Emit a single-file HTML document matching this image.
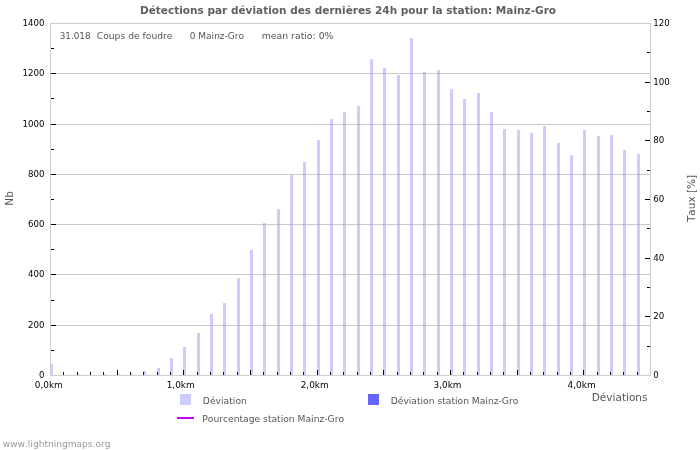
<!DOCTYPE html><html><head><meta charset="utf-8"><style>html,body{margin:0;padding:0;background:#fff;}body{position:relative;width:700px;height:450px;overflow:hidden}svg{display:block;position:absolute;left:0;top:0}text{font-family:"DejaVu Sans","Liberation Sans",sans-serif;font-kerning:none;}</style></head><body>
<svg width="700" height="450" viewBox="0 0 700 450" shape-rendering="crispEdges">
<rect x="0" y="0" width="700" height="450" fill="#fff"/>
<rect x="51" y="325" width="599" height="1" fill="#cacaca"/>
<rect x="51" y="274" width="599" height="1" fill="#cacaca"/>
<rect x="51" y="224" width="599" height="1" fill="#cacaca"/>
<rect x="51" y="174" width="599" height="1" fill="#cacaca"/>
<rect x="51" y="124" width="599" height="1" fill="#cacaca"/>
<rect x="51" y="73" width="599" height="1" fill="#cacaca"/>
<rect x="50" y="364" width="3" height="11" fill="#ccccff"/>
<rect x="77" y="374" width="3" height="1" fill="#ccccff"/>
<rect x="103" y="374" width="3" height="1" fill="#ccccff"/>
<rect x="117" y="374" width="3" height="1" fill="#ccccff"/>
<rect x="130" y="374" width="3" height="1" fill="#ccccff"/>
<rect x="143" y="371" width="3" height="4" fill="#ccccff"/>
<rect x="157" y="368" width="3" height="7" fill="#ccccff"/>
<rect x="170" y="358" width="3" height="17" fill="#ccccff"/>
<rect x="183" y="347" width="3" height="28" fill="#ccccff"/>
<rect x="197" y="333" width="3" height="42" fill="#ccccff"/>
<rect x="210" y="314" width="3" height="61" fill="#ccccff"/>
<rect x="210" y="325" width="3" height="1" fill="#b2b2de"/>
<rect x="223" y="303" width="3" height="72" fill="#ccccff"/>
<rect x="223" y="325" width="3" height="1" fill="#b2b2de"/>
<rect x="237" y="278" width="3" height="97" fill="#ccccff"/>
<rect x="237" y="325" width="3" height="1" fill="#b2b2de"/>
<rect x="250" y="250" width="3" height="125" fill="#ccccff"/>
<rect x="250" y="325" width="3" height="1" fill="#b2b2de"/>
<rect x="250" y="274" width="3" height="1" fill="#b2b2de"/>
<rect x="263" y="223" width="3" height="152" fill="#ccccff"/>
<rect x="263" y="325" width="3" height="1" fill="#b2b2de"/>
<rect x="263" y="274" width="3" height="1" fill="#b2b2de"/>
<rect x="263" y="224" width="3" height="1" fill="#b2b2de"/>
<rect x="277" y="209" width="3" height="166" fill="#ccccff"/>
<rect x="277" y="325" width="3" height="1" fill="#b2b2de"/>
<rect x="277" y="274" width="3" height="1" fill="#b2b2de"/>
<rect x="277" y="224" width="3" height="1" fill="#b2b2de"/>
<rect x="290" y="175" width="3" height="200" fill="#ccccff"/>
<rect x="290" y="325" width="3" height="1" fill="#b2b2de"/>
<rect x="290" y="274" width="3" height="1" fill="#b2b2de"/>
<rect x="290" y="224" width="3" height="1" fill="#b2b2de"/>
<rect x="303" y="162" width="3" height="213" fill="#ccccff"/>
<rect x="303" y="325" width="3" height="1" fill="#b2b2de"/>
<rect x="303" y="274" width="3" height="1" fill="#b2b2de"/>
<rect x="303" y="224" width="3" height="1" fill="#b2b2de"/>
<rect x="303" y="174" width="3" height="1" fill="#b2b2de"/>
<rect x="317" y="140" width="3" height="235" fill="#ccccff"/>
<rect x="317" y="325" width="3" height="1" fill="#b2b2de"/>
<rect x="317" y="274" width="3" height="1" fill="#b2b2de"/>
<rect x="317" y="224" width="3" height="1" fill="#b2b2de"/>
<rect x="317" y="174" width="3" height="1" fill="#b2b2de"/>
<rect x="330" y="119" width="3" height="256" fill="#ccccff"/>
<rect x="330" y="325" width="3" height="1" fill="#b2b2de"/>
<rect x="330" y="274" width="3" height="1" fill="#b2b2de"/>
<rect x="330" y="224" width="3" height="1" fill="#b2b2de"/>
<rect x="330" y="174" width="3" height="1" fill="#b2b2de"/>
<rect x="330" y="124" width="3" height="1" fill="#b2b2de"/>
<rect x="343" y="112" width="3" height="263" fill="#ccccff"/>
<rect x="343" y="325" width="3" height="1" fill="#b2b2de"/>
<rect x="343" y="274" width="3" height="1" fill="#b2b2de"/>
<rect x="343" y="224" width="3" height="1" fill="#b2b2de"/>
<rect x="343" y="174" width="3" height="1" fill="#b2b2de"/>
<rect x="343" y="124" width="3" height="1" fill="#b2b2de"/>
<rect x="357" y="106" width="3" height="269" fill="#ccccff"/>
<rect x="357" y="325" width="3" height="1" fill="#b2b2de"/>
<rect x="357" y="274" width="3" height="1" fill="#b2b2de"/>
<rect x="357" y="224" width="3" height="1" fill="#b2b2de"/>
<rect x="357" y="174" width="3" height="1" fill="#b2b2de"/>
<rect x="357" y="124" width="3" height="1" fill="#b2b2de"/>
<rect x="370" y="59" width="3" height="316" fill="#ccccff"/>
<rect x="370" y="325" width="3" height="1" fill="#b2b2de"/>
<rect x="370" y="274" width="3" height="1" fill="#b2b2de"/>
<rect x="370" y="224" width="3" height="1" fill="#b2b2de"/>
<rect x="370" y="174" width="3" height="1" fill="#b2b2de"/>
<rect x="370" y="124" width="3" height="1" fill="#b2b2de"/>
<rect x="370" y="73" width="3" height="1" fill="#b2b2de"/>
<rect x="383" y="68" width="3" height="307" fill="#ccccff"/>
<rect x="383" y="325" width="3" height="1" fill="#b2b2de"/>
<rect x="383" y="274" width="3" height="1" fill="#b2b2de"/>
<rect x="383" y="224" width="3" height="1" fill="#b2b2de"/>
<rect x="383" y="174" width="3" height="1" fill="#b2b2de"/>
<rect x="383" y="124" width="3" height="1" fill="#b2b2de"/>
<rect x="383" y="73" width="3" height="1" fill="#b2b2de"/>
<rect x="397" y="75" width="3" height="300" fill="#ccccff"/>
<rect x="397" y="325" width="3" height="1" fill="#b2b2de"/>
<rect x="397" y="274" width="3" height="1" fill="#b2b2de"/>
<rect x="397" y="224" width="3" height="1" fill="#b2b2de"/>
<rect x="397" y="174" width="3" height="1" fill="#b2b2de"/>
<rect x="397" y="124" width="3" height="1" fill="#b2b2de"/>
<rect x="410" y="38" width="3" height="337" fill="#ccccff"/>
<rect x="410" y="325" width="3" height="1" fill="#b2b2de"/>
<rect x="410" y="274" width="3" height="1" fill="#b2b2de"/>
<rect x="410" y="224" width="3" height="1" fill="#b2b2de"/>
<rect x="410" y="174" width="3" height="1" fill="#b2b2de"/>
<rect x="410" y="124" width="3" height="1" fill="#b2b2de"/>
<rect x="410" y="73" width="3" height="1" fill="#b2b2de"/>
<rect x="423" y="72" width="3" height="303" fill="#ccccff"/>
<rect x="423" y="325" width="3" height="1" fill="#b2b2de"/>
<rect x="423" y="274" width="3" height="1" fill="#b2b2de"/>
<rect x="423" y="224" width="3" height="1" fill="#b2b2de"/>
<rect x="423" y="174" width="3" height="1" fill="#b2b2de"/>
<rect x="423" y="124" width="3" height="1" fill="#b2b2de"/>
<rect x="423" y="73" width="3" height="1" fill="#b2b2de"/>
<rect x="437" y="70" width="3" height="305" fill="#ccccff"/>
<rect x="437" y="325" width="3" height="1" fill="#b2b2de"/>
<rect x="437" y="274" width="3" height="1" fill="#b2b2de"/>
<rect x="437" y="224" width="3" height="1" fill="#b2b2de"/>
<rect x="437" y="174" width="3" height="1" fill="#b2b2de"/>
<rect x="437" y="124" width="3" height="1" fill="#b2b2de"/>
<rect x="437" y="73" width="3" height="1" fill="#b2b2de"/>
<rect x="450" y="89" width="3" height="286" fill="#ccccff"/>
<rect x="450" y="325" width="3" height="1" fill="#b2b2de"/>
<rect x="450" y="274" width="3" height="1" fill="#b2b2de"/>
<rect x="450" y="224" width="3" height="1" fill="#b2b2de"/>
<rect x="450" y="174" width="3" height="1" fill="#b2b2de"/>
<rect x="450" y="124" width="3" height="1" fill="#b2b2de"/>
<rect x="463" y="99" width="3" height="276" fill="#ccccff"/>
<rect x="463" y="325" width="3" height="1" fill="#b2b2de"/>
<rect x="463" y="274" width="3" height="1" fill="#b2b2de"/>
<rect x="463" y="224" width="3" height="1" fill="#b2b2de"/>
<rect x="463" y="174" width="3" height="1" fill="#b2b2de"/>
<rect x="463" y="124" width="3" height="1" fill="#b2b2de"/>
<rect x="477" y="93" width="3" height="282" fill="#ccccff"/>
<rect x="477" y="325" width="3" height="1" fill="#b2b2de"/>
<rect x="477" y="274" width="3" height="1" fill="#b2b2de"/>
<rect x="477" y="224" width="3" height="1" fill="#b2b2de"/>
<rect x="477" y="174" width="3" height="1" fill="#b2b2de"/>
<rect x="477" y="124" width="3" height="1" fill="#b2b2de"/>
<rect x="490" y="112" width="3" height="263" fill="#ccccff"/>
<rect x="490" y="325" width="3" height="1" fill="#b2b2de"/>
<rect x="490" y="274" width="3" height="1" fill="#b2b2de"/>
<rect x="490" y="224" width="3" height="1" fill="#b2b2de"/>
<rect x="490" y="174" width="3" height="1" fill="#b2b2de"/>
<rect x="490" y="124" width="3" height="1" fill="#b2b2de"/>
<rect x="503" y="129" width="3" height="246" fill="#ccccff"/>
<rect x="503" y="325" width="3" height="1" fill="#b2b2de"/>
<rect x="503" y="274" width="3" height="1" fill="#b2b2de"/>
<rect x="503" y="224" width="3" height="1" fill="#b2b2de"/>
<rect x="503" y="174" width="3" height="1" fill="#b2b2de"/>
<rect x="517" y="130" width="3" height="245" fill="#ccccff"/>
<rect x="517" y="325" width="3" height="1" fill="#b2b2de"/>
<rect x="517" y="274" width="3" height="1" fill="#b2b2de"/>
<rect x="517" y="224" width="3" height="1" fill="#b2b2de"/>
<rect x="517" y="174" width="3" height="1" fill="#b2b2de"/>
<rect x="530" y="133" width="3" height="242" fill="#ccccff"/>
<rect x="530" y="325" width="3" height="1" fill="#b2b2de"/>
<rect x="530" y="274" width="3" height="1" fill="#b2b2de"/>
<rect x="530" y="224" width="3" height="1" fill="#b2b2de"/>
<rect x="530" y="174" width="3" height="1" fill="#b2b2de"/>
<rect x="543" y="126" width="3" height="249" fill="#ccccff"/>
<rect x="543" y="325" width="3" height="1" fill="#b2b2de"/>
<rect x="543" y="274" width="3" height="1" fill="#b2b2de"/>
<rect x="543" y="224" width="3" height="1" fill="#b2b2de"/>
<rect x="543" y="174" width="3" height="1" fill="#b2b2de"/>
<rect x="557" y="143" width="3" height="232" fill="#ccccff"/>
<rect x="557" y="325" width="3" height="1" fill="#b2b2de"/>
<rect x="557" y="274" width="3" height="1" fill="#b2b2de"/>
<rect x="557" y="224" width="3" height="1" fill="#b2b2de"/>
<rect x="557" y="174" width="3" height="1" fill="#b2b2de"/>
<rect x="570" y="155" width="3" height="220" fill="#ccccff"/>
<rect x="570" y="325" width="3" height="1" fill="#b2b2de"/>
<rect x="570" y="274" width="3" height="1" fill="#b2b2de"/>
<rect x="570" y="224" width="3" height="1" fill="#b2b2de"/>
<rect x="570" y="174" width="3" height="1" fill="#b2b2de"/>
<rect x="583" y="130" width="3" height="245" fill="#ccccff"/>
<rect x="583" y="325" width="3" height="1" fill="#b2b2de"/>
<rect x="583" y="274" width="3" height="1" fill="#b2b2de"/>
<rect x="583" y="224" width="3" height="1" fill="#b2b2de"/>
<rect x="583" y="174" width="3" height="1" fill="#b2b2de"/>
<rect x="597" y="136" width="3" height="239" fill="#ccccff"/>
<rect x="597" y="325" width="3" height="1" fill="#b2b2de"/>
<rect x="597" y="274" width="3" height="1" fill="#b2b2de"/>
<rect x="597" y="224" width="3" height="1" fill="#b2b2de"/>
<rect x="597" y="174" width="3" height="1" fill="#b2b2de"/>
<rect x="610" y="135" width="3" height="240" fill="#ccccff"/>
<rect x="610" y="325" width="3" height="1" fill="#b2b2de"/>
<rect x="610" y="274" width="3" height="1" fill="#b2b2de"/>
<rect x="610" y="224" width="3" height="1" fill="#b2b2de"/>
<rect x="610" y="174" width="3" height="1" fill="#b2b2de"/>
<rect x="623" y="150" width="3" height="225" fill="#ccccff"/>
<rect x="623" y="325" width="3" height="1" fill="#b2b2de"/>
<rect x="623" y="274" width="3" height="1" fill="#b2b2de"/>
<rect x="623" y="224" width="3" height="1" fill="#b2b2de"/>
<rect x="623" y="174" width="3" height="1" fill="#b2b2de"/>
<rect x="637" y="154" width="3" height="221" fill="#ccccff"/>
<rect x="637" y="325" width="3" height="1" fill="#b2b2de"/>
<rect x="637" y="274" width="3" height="1" fill="#b2b2de"/>
<rect x="637" y="224" width="3" height="1" fill="#b2b2de"/>
<rect x="637" y="174" width="3" height="1" fill="#b2b2de"/>
<rect x="50" y="23" width="601" height="1" fill="#cfcfcf"/>
<rect x="650" y="23" width="1" height="353" fill="#cfcfcf"/>
<rect x="50" y="23" width="1" height="353" fill="#cfcfcf"/>
<rect x="50" y="375" width="601" height="1" fill="#cfcfcf"/>
<rect x="63" y="372" width="1" height="3" fill="#000"/>
<rect x="77" y="372" width="1" height="3" fill="#000"/>
<rect x="90" y="372" width="1" height="3" fill="#000"/>
<rect x="103" y="372" width="1" height="3" fill="#000"/>
<rect x="117" y="370" width="1" height="5" fill="#000"/>
<rect x="130" y="372" width="1" height="3" fill="#000"/>
<rect x="143" y="372" width="1" height="3" fill="#000"/>
<rect x="157" y="372" width="1" height="3" fill="#000"/>
<rect x="170" y="372" width="1" height="3" fill="#000"/>
<rect x="183" y="370" width="1" height="5" fill="#000"/>
<rect x="197" y="372" width="1" height="3" fill="#000"/>
<rect x="210" y="372" width="1" height="3" fill="#000"/>
<rect x="223" y="372" width="1" height="3" fill="#000"/>
<rect x="237" y="372" width="1" height="3" fill="#000"/>
<rect x="250" y="370" width="1" height="5" fill="#000"/>
<rect x="263" y="372" width="1" height="3" fill="#000"/>
<rect x="277" y="372" width="1" height="3" fill="#000"/>
<rect x="290" y="372" width="1" height="3" fill="#000"/>
<rect x="303" y="372" width="1" height="3" fill="#000"/>
<rect x="317" y="370" width="1" height="5" fill="#000"/>
<rect x="330" y="372" width="1" height="3" fill="#000"/>
<rect x="343" y="372" width="1" height="3" fill="#000"/>
<rect x="357" y="372" width="1" height="3" fill="#000"/>
<rect x="370" y="372" width="1" height="3" fill="#000"/>
<rect x="383" y="370" width="1" height="5" fill="#000"/>
<rect x="397" y="372" width="1" height="3" fill="#000"/>
<rect x="410" y="372" width="1" height="3" fill="#000"/>
<rect x="423" y="372" width="1" height="3" fill="#000"/>
<rect x="437" y="372" width="1" height="3" fill="#000"/>
<rect x="450" y="370" width="1" height="5" fill="#000"/>
<rect x="463" y="372" width="1" height="3" fill="#000"/>
<rect x="477" y="372" width="1" height="3" fill="#000"/>
<rect x="490" y="372" width="1" height="3" fill="#000"/>
<rect x="503" y="372" width="1" height="3" fill="#000"/>
<rect x="517" y="370" width="1" height="5" fill="#000"/>
<rect x="530" y="372" width="1" height="3" fill="#000"/>
<rect x="543" y="372" width="1" height="3" fill="#000"/>
<rect x="557" y="372" width="1" height="3" fill="#000"/>
<rect x="570" y="372" width="1" height="3" fill="#000"/>
<rect x="583" y="370" width="1" height="5" fill="#000"/>
<rect x="597" y="372" width="1" height="3" fill="#000"/>
<rect x="610" y="372" width="1" height="3" fill="#000"/>
<rect x="623" y="372" width="1" height="3" fill="#000"/>
<rect x="637" y="372" width="1" height="3" fill="#000"/>
<rect x="51" y="350" width="3" height="1" fill="#000"/>
<rect x="51" y="325" width="5" height="1" fill="#000"/>
<rect x="51" y="300" width="3" height="1" fill="#000"/>
<rect x="51" y="274" width="5" height="1" fill="#000"/>
<rect x="51" y="249" width="3" height="1" fill="#000"/>
<rect x="51" y="224" width="5" height="1" fill="#000"/>
<rect x="51" y="199" width="3" height="1" fill="#000"/>
<rect x="51" y="174" width="5" height="1" fill="#000"/>
<rect x="51" y="149" width="3" height="1" fill="#000"/>
<rect x="51" y="124" width="5" height="1" fill="#000"/>
<rect x="51" y="98" width="3" height="1" fill="#000"/>
<rect x="51" y="73" width="5" height="1" fill="#000"/>
<rect x="51" y="48" width="3" height="1" fill="#000"/>
<rect x="647" y="346" width="3" height="1" fill="#000"/>
<rect x="645" y="316" width="5" height="1" fill="#000"/>
<rect x="647" y="287" width="3" height="1" fill="#000"/>
<rect x="645" y="258" width="5" height="1" fill="#000"/>
<rect x="647" y="228" width="3" height="1" fill="#000"/>
<rect x="645" y="199" width="5" height="1" fill="#000"/>
<rect x="647" y="170" width="3" height="1" fill="#000"/>
<rect x="645" y="140" width="5" height="1" fill="#000"/>
<rect x="647" y="111" width="3" height="1" fill="#000"/>
<rect x="645" y="82" width="5" height="1" fill="#000"/>
<rect x="647" y="52" width="3" height="1" fill="#000"/>
<rect x="180" y="394" width="11" height="11" fill="#ccccff"/>
<rect x="368" y="394" width="11" height="11" fill="#6666ff"/>
<rect x="177" y="417" width="17" height="2" fill="#cc00ff"/>
</svg>
<svg width="700" height="450" viewBox="0 0 700 450">
<text x="139.93" y="13.9" font-size="11" font-weight="bold" fill="#606060" textLength="416.12" lengthAdjust="spacingAndGlyphs">Détections par déviation des dernières 24h pour la station: Mainz-Gro</text>
<text x="59.63" y="38.8" font-size="9.3" fill="#555" textLength="30.98" lengthAdjust="spacingAndGlyphs">31.018</text>
<text x="96.78" y="38.8" font-size="9.3" fill="#555" textLength="75.7" lengthAdjust="spacingAndGlyphs">Coups de foudre</text>
<text x="189.7" y="38.8" font-size="9.3" fill="#555" textLength="54.39" lengthAdjust="spacingAndGlyphs">0 Mainz-Gro</text>
<text x="261.75" y="38.8" font-size="9.3" fill="#555" textLength="71.66" lengthAdjust="spacingAndGlyphs">mean ratio: 0%</text>
<text x="44.5" y="377.9" font-size="9" fill="#000" text-anchor="end" textLength="5.50" lengthAdjust="spacingAndGlyphs">0</text>
<text x="44.5" y="327.6" font-size="9" fill="#000" text-anchor="end" textLength="16.49" lengthAdjust="spacingAndGlyphs">200</text>
<text x="44.5" y="277.3" font-size="9" fill="#000" text-anchor="end" textLength="16.49" lengthAdjust="spacingAndGlyphs">400</text>
<text x="44.5" y="227.0" font-size="9" fill="#000" text-anchor="end" textLength="16.49" lengthAdjust="spacingAndGlyphs">600</text>
<text x="44.5" y="176.8" font-size="9" fill="#000" text-anchor="end" textLength="16.49" lengthAdjust="spacingAndGlyphs">800</text>
<text x="44.5" y="126.5" font-size="9" fill="#000" text-anchor="end" textLength="21.99" lengthAdjust="spacingAndGlyphs">1000</text>
<text x="44.5" y="76.2" font-size="9" fill="#000" text-anchor="end" textLength="21.99" lengthAdjust="spacingAndGlyphs">1200</text>
<text x="44.5" y="25.9" font-size="9" fill="#000" text-anchor="end" textLength="21.99" lengthAdjust="spacingAndGlyphs">1400</text>
<text x="653.3" y="377.9" font-size="9" fill="#000" textLength="5.50" lengthAdjust="spacingAndGlyphs">0</text>
<text x="653.3" y="319.2" font-size="9" fill="#000" textLength="10.99" lengthAdjust="spacingAndGlyphs">20</text>
<text x="653.3" y="260.6" font-size="9" fill="#000" textLength="10.99" lengthAdjust="spacingAndGlyphs">40</text>
<text x="653.3" y="201.9" font-size="9" fill="#000" textLength="10.99" lengthAdjust="spacingAndGlyphs">60</text>
<text x="653.3" y="143.2" font-size="9" fill="#000" textLength="10.99" lengthAdjust="spacingAndGlyphs">80</text>
<text x="653.3" y="84.6" font-size="9" fill="#000" textLength="16.49" lengthAdjust="spacingAndGlyphs">100</text>
<text x="653.3" y="25.9" font-size="9" fill="#000" textLength="16.49" lengthAdjust="spacingAndGlyphs">120</text>
<text x="34.81" y="387.7" font-size="8.6" fill="#000" textLength="27.94" lengthAdjust="spacingAndGlyphs">0,0km</text>
<text x="166.72" y="387.7" font-size="8.6" fill="#000" textLength="27.93" lengthAdjust="spacingAndGlyphs">1,0km</text>
<text x="300.65" y="387.7" font-size="8.6" fill="#000" textLength="28.01" lengthAdjust="spacingAndGlyphs">2,0km</text>
<text x="433.63" y="387.7" font-size="8.6" fill="#000" textLength="27.83" lengthAdjust="spacingAndGlyphs">3,0km</text>
<text x="567.56" y="387.7" font-size="8.6" fill="#000" textLength="28.2" lengthAdjust="spacingAndGlyphs">4,0km</text>
<text x="591.77" y="400.8" font-size="10.3" fill="#555" textLength="55.74" lengthAdjust="spacingAndGlyphs">Déviations</text>
<text transform="translate(12.8,198.4) rotate(-90)" font-size="10.5" fill="#555" text-anchor="middle">Nb</text>
<text transform="translate(695,198.5) rotate(-90)" font-size="10.5" fill="#555" text-anchor="middle">Taux [%]</text>
<text x="202.8" y="403.8" font-size="9.1" fill="#555" textLength="44.09" lengthAdjust="spacingAndGlyphs">Déviation</text>
<text x="390.7" y="403.8" font-size="9.1" fill="#555" textLength="127.6" lengthAdjust="spacingAndGlyphs">Déviation station Mainz-Gro</text>
<text x="202.3" y="421.5" font-size="9.1" fill="#555" textLength="141.8" lengthAdjust="spacingAndGlyphs">Pourcentage station Mainz-Gro</text>
<text x="2.72" y="447.1" font-size="9" fill="#999" textLength="107.8" lengthAdjust="spacingAndGlyphs">www.lightningmaps.org</text>
</svg>
</body></html>
